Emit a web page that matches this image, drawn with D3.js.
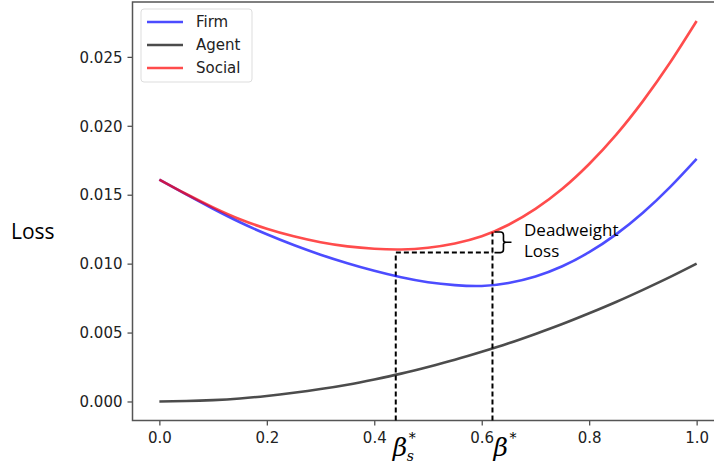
<!DOCTYPE html>
<html>
<head>
<meta charset="utf-8">
<script src="https://cdn.jsdelivr.net/npm/d3@7"></script>
<style>
  body { margin: 0; background: #fff; }
  svg { display: block; }
  .tick text { font-family: "DejaVu Sans", sans-serif; font-size: 15px; fill: #222; }
</style>
</head>
<body>
<script>
// valores
var beta = [0, 0.05, 0.1, 0.15, 0.2, 0.25, 0.3, 0.35, 0.4, 0.45, 0.5, 0.55, 0.6, 0.65, 0.7, 0.75, 0.8, 0.85, 0.9, 0.95, 1.0]
var firm = [0.0161, 0.01502, 0.01398, 0.01300, 0.01213, 0.01135, 0.01065, 0.01003, 0.00948, 0.00901, 0.00865, 0.00844, 0.00838, 0.00860, 0.00907, 0.00981, 0.01083, 0.01212, 0.01369, 0.01553, 0.0176]
var agent = [0, 0.00003, 0.0001, 0.00022, 0.0004, 0.00063, 0.0009, 0.00122, 0.0016, 0.00202, 0.0025, 0.00302, 0.0036, 0.00422, 0.0049, 0.00562, 0.0064, 0.00722, 0.0081, 0.00902, 0.0100]
var social = [0.0161, 0.01505, 0.01408, 0.01322, 0.01253, 0.01198, 0.01155, 0.01125, 0.01108, 0.01103, 0.01115, 0.01146, 0.01198, 0.01282, 0.01397, 0.01543, 0.01723, 0.01934, 0.02179, 0.02455, 0.0276]

var seriesNames = ["Firm", "Agent", "Social"]
var seriesColors = ["#0000ff", "#000000", "#ff0000"]

var xTicks = [0, 0.2, 0.4, 0.6, 0.8, 1.0]
var yTicks = [0, 0.005, 0.010, 0.015, 0.020, 0.025]

var betaSocial = 0.44   // beta_s*
var betaFirm = 0.62     // beta*
var dwlLow = 0.0108
var dwlHigh = 0.0123

var width = 714, height = 467

var svg = d3.select("body").append("svg")
  .attr("width", width)
  .attr("height", height)

// dominio con el 5% de margen como matplotlib
var x = d3.scaleLinear().domain([-0.05, 1.05]).range([132.5, 723.5])
var y = d3.scaleLinear().domain([-0.00138, 0.02898]).range([420.5, 2])

// ejes
svg.append("g")
  .attr("class", "xaxis")
  .attr("transform", "translate(0,420.5)")
  .call(d3.axisBottom(x).tickValues(xTicks).tickFormat(d3.format(".1f")).tickSize(5).tickPadding(5))
  .call(g => g.select(".domain").remove())

svg.append("g")
  .attr("class", "yaxis")
  .attr("transform", "translate(132.5,0)")
  .call(d3.axisLeft(y).tickValues(yTicks).tickFormat(d3.format(".3f")).tickSize(5).tickPadding(5))
  .call(g => g.select(".domain").remove())

svg.selectAll(".tick line").attr("stroke", "#444").attr("stroke-width", 1.2)
svg.selectAll(".yaxis .tick text").attr("dy", "0.35em")
svg.selectAll(".xaxis .tick text").attr("dy", "0.85em")

// marco
svg.append("path")
  .attr("d", "M" + width + ",2 H132.5 V420.5 H" + width)
  .attr("fill", "none")
  .attr("stroke", "#555")
  .attr("stroke-width", 1.5)

// lineas discontinuas
var dashed = [
  [[betaSocial, y.domain()[0]], [betaSocial, dwlLow], [betaFirm, dwlLow]],
  [[betaFirm, y.domain()[0]], [betaFirm, dwlHigh]]
]
svg.selectAll(".dash")
  .data(dashed)
  .enter().append("path")
  .attr("class", "dash")
  .attr("d", d3.line().x(d => x(d[0])).y(d => y(d[1])))
  .attr("fill", "none")
  .attr("stroke", "#000")
  .attr("stroke-width", 2)
  .attr("stroke-dasharray", "5,3")

// curvas
var series = [firm, agent, social]
var line = d3.line()
  .x((d, i) => x(beta[i]))
  .y(d => y(d))
  .curve(d3.curveNatural)

svg.selectAll(".curve")
  .data(series)
  .enter().append("path")
  .attr("class", "curve")
  .attr("d", line)
  .attr("fill", "none")
  .attr("stroke", (d, i) => seriesColors[i])
  .attr("stroke-opacity", 0.7)
  .attr("stroke-width", 2.6)

// llave de la perdida
var bx = x(betaFirm)
var yTop = y(dwlHigh), yBot = y(dwlLow), yMid = (yTop + yBot) / 2
svg.append("path")
  .attr("d", "M" + (bx + 2) + "," + yTop + " H" + (bx + 8) + " Q" + (bx + 11) + "," + yTop + " " + (bx + 11) + "," + (yTop + 3)
    + " V" + (yMid - 2) + " Q" + (bx + 11) + "," + yMid + " " + (bx + 14) + "," + yMid + " H" + (bx + 19)
    + " M" + (bx + 14) + "," + yMid + " Q" + (bx + 11) + "," + yMid + " " + (bx + 11) + "," + (yMid + 2)
    + " V" + (yBot - 3) + " Q" + (bx + 11) + "," + yBot + " " + (bx + 8) + "," + yBot + " H" + (bx + 2))
  .attr("fill", "none")
  .attr("stroke", "#000")
  .attr("stroke-width", 1.6)

svg.append("text")
  .attr("x", 524).attr("y", 236)
  .style("font-family", "'Open Sans', sans-serif")
  .style("font-size", "17px")
  .text("Deadweight")
svg.append("text")
  .attr("x", 524).attr("y", 257)
  .style("font-family", "'Open Sans', sans-serif")
  .style("font-size", "17px")
  .text("Loss")

// etiqueta del eje y
svg.append("text")
  .attr("x", 11).attr("y", 239)
  .style("font-family", "'Open Sans', sans-serif")
  .style("font-size", "21px")
  .text("Loss")

// betas bajo el eje
var betaLabels = [{v: betaSocial, sub: "s", dx: -3}, {v: betaFirm, sub: "", dx: 1}]
betaLabels.forEach(function(b) {
  var x0 = x(b.v) + b.dx
  svg.append("text")
    .attr("x", x0).attr("y", 456)
    .style("font-family", "'DejaVu Serif', serif")
    .style("font-style", "italic")
    .style("font-size", "25px")
    .text("β")
  svg.append("text")
    .attr("x", x0 + 16).attr("y", 443)
    .style("font-family", "'DejaVu Serif', serif")
    .style("font-size", "14px")
    .text("*")
  if (b.sub) {
    svg.append("text")
      .attr("x", x0 + 14).attr("y", 461)
      .style("font-family", "'DejaVu Serif', serif")
      .style("font-style", "italic")
      .style("font-size", "14px")
      .text(b.sub)
  }
})

// leyenda
var leg = svg.append("g").attr("transform", "translate(141,9)")
leg.append("rect")
  .attr("width", 111).attr("height", 73)
  .attr("rx", 3)
  .attr("fill", "#fff")
  .attr("fill-opacity", 0.8)
  .attr("stroke", "#ddd")
var items = leg.selectAll(".item")
  .data(seriesNames)
  .enter().append("g")
  .attr("transform", (d, i) => "translate(0," + (13 + i * 23) + ")")
items.append("line")
  .attr("x1", 6).attr("x2", 42)
  .attr("stroke", (d, i) => seriesColors[i])
  .attr("stroke-opacity", 0.7)
  .attr("stroke-width", 2.6)
items.append("text")
  .attr("x", 55).attr("dy", "0.35em")
  .style("font-family", "'DejaVu Sans', sans-serif")
  .style("font-size", "15px")
  .style("fill", "#222")
  .text(d => d)
</script>
</body>
</html>
